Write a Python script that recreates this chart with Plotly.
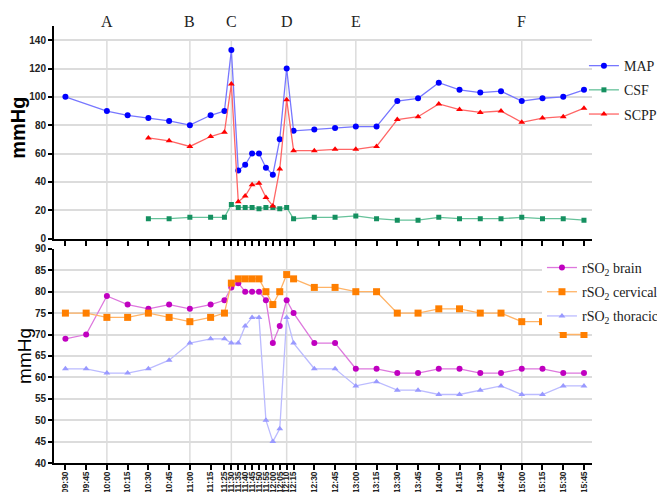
import plotly.graph_objects as go
from plotly.subplots import make_subplots

times = ["09:30", "09:45", "10:00", "10:15", "10:30", "10:45", "11:00", "11:15", "11:25",
         "11:30", "11:35", "11:40", "11:45", "11:50", "11:55", "12:00", "12:05", "12:10", "12:15",
         "12:30", "12:45", "13:00", "13:15", "13:30", "13:45", "14:00", "14:15", "14:30", "14:45",
         "15:00", "15:15", "15:30", "15:45"]

MAP = [100, None, 90, 87, 85, 83, 80, 87, 90,
       133, 48, 52, 60, 60, 50, 45, 70, 120, 76,
       77, 78, 79, 79, 97, 99, 110, 105, 103, 104, 97, 99, 100, 105]
CSF = [None, None, None, None, 14, 14, 15, 15, 15,
       24, 22, 22, 22, 21, 22, 22, 21, 22, 14,
       15, 15, 16, 14, 13, 13, 15, 14, 14, 14, 15, 14, 14, 13]
SCPP = [None, None, None, None, 71, 69, 65, 72, 75,
        109, 26, 30, 38, 39, 29, 23, 49, 98, 62,
        62, 63, 63, 65, 84, 86, 95, 91, 89, 90, 82, 85, 86, 92]

rso2_brain = [69, 70, 79, 77, 76, 77, 76, 77, 78,
              81, 82, 80, 80, 80, 78, 68, 72, 78, 75,
              68, 68, 62, 62, 61, 61, 62, 62, 61, 61, 62, 62, 61, 61]
rso2_cervical = [75, 75, 74, 74, 75, 74, 73, 74, 75,
                 82, 83, 83, 83, 83, 80, 77, 80, 84, 83,
                 81, 81, 80, 80, 75, 75, 76, 76, 75, 75, 73, 73, 70, 70]
rso2_thoracic = [62, 62, 61, 61, 62, 64, 68, 69, 69,
                 68, 68, 72, 74, 74, 50, 45, 48, 74, 68,
                 62, 62, 58, 59, 57, 57, 56, 56, 57, 58, 56, 56, 58, 58]

phase_labels = ["A", "B", "C", "D", "E", "F"]
phase_times = ["10:00", "11:00", "11:30", "12:10", "13:00", "15:00"]

DAY = "2000-01-01 "
x = [DAY + t for t in times]

top_dom = [0.5136, 1.0]
bot_dom = [0.0, 0.490]

fig = make_subplots(rows=2, cols=1, shared_xaxes=False, vertical_spacing=0.02)

serif = "Liberation Serif, Times New Roman, serif"
sans = "Liberation Sans, Arial, sans-serif"

def add(row, y, name, color, lcolor, symbol, size, legend):
    fig.add_trace(go.Scatter(
        x=x, y=y, name=name, mode="lines+markers", connectgaps=True,
        line=dict(color=lcolor, width=1.3),
        marker=dict(color=color, symbol=symbol, size=size),
        legend=legend, legendgroup=name,
    ), row=row, col=1)

add(1, MAP, "MAP", "#0000ff", "#7777ff", "circle", 6, "legend")
add(1, CSF, "CSF", "#159060", "#66c29a", "square", 5, "legend")
add(1, SCPP, "SCPP", "#ff0000", "#ff6666", "triangle-up", 6, "legend")

add(2, rso2_brain, "rSO<sub>2</sub> brain", "#c000c0", "#dd77dd", "circle", 6, "legend2")
add(2, rso2_cervical, "rSO<sub>2</sub> cervical", "#ff7f00", "#ffb366", "square", 7, "legend2")
add(2, rso2_thoracic, "rSO<sub>2</sub> thoracic", "#9999ff", "#bbbbff", "triangle-up", 6, "legend2")

xr = [DAY + "09:21:45", DAY + "15:50:48"]
tickfont_y = dict(family=sans, size=10, color="#222", weight="bold")
tickfont_x = dict(family=sans, size=8.5, color="#222", weight="bold")

common_x = dict(type="date", range=xr, tickmode="array", tickvals=x, ticktext=times,
                showgrid=False, showline=True, linecolor="black", linewidth=2,
                ticks="outside", ticklen=5, tickwidth=1.5, tickcolor="black",
                zeroline=False, automargin=False)
fig.update_xaxes(**common_x, showticklabels=False, row=1, col=1)
fig.update_xaxes(**common_x, showticklabels=True, tickangle=-90, tickfont=tickfont_x,
                 ticklabelstandoff=-2, row=2, col=1)
fig.update_layout(xaxis=dict(domain=[0, 1]), xaxis2=dict(domain=[0, 1]))

common_y = dict(showgrid=True, gridcolor="#dcdcdc", gridwidth=1.5, showline=True,
                linecolor="black", linewidth=2, ticks="outside", ticklen=4, tickwidth=1.5,
                tickcolor="black", zeroline=False, tickfont=tickfont_y, automargin=False)
fig.update_yaxes(**common_y, range=[0, 150], tickvals=[0, 20, 40, 60, 80, 100, 120, 140],
                 domain=top_dom, row=1, col=1)
fig.update_yaxes(**common_y, range=[40, 90], tickvals=[40, 45, 50, 55, 60, 65, 70, 75, 80, 85, 90],
                 domain=bot_dom, row=2, col=1)

# y-axis titles
fig.add_annotation(text="<b>mmHg</b>", xref="paper", yref="paper", x=-0.0669, y=0.767,
                   textangle=-90, showarrow=False, xanchor="center", yanchor="middle",
                   font=dict(family=sans, size=20, color="black"))
fig.add_annotation(text="mmHg", xref="paper", yref="paper", x=-0.0539, y=0.245,
                   textangle=-90, showarrow=False, xanchor="center", yanchor="middle",
                   font=dict(family=sans, size=19, color="black"))

# vertical phase gridlines spanning both panels
y140 = top_dom[0] + (140 / 150) * (top_dom[1] - top_dom[0])
for t, lab in zip(phase_times, phase_labels):
    fig.add_shape(type="line", xref="x", yref="paper", x0=DAY + t, x1=DAY + t,
                  y0=0, y1=y140, line=dict(color="#dcdcdc", width=1.5), layer="below")
    fig.add_annotation(x=DAY + t, xref="x", y=1.011, yref="paper", text=lab, showarrow=False,
                       font=dict(family=serif, size=16, color="#222"), yanchor="middle")

fig.update_layout(
    width=657, height=492,
    margin=dict(l=54, r=65, t=26, b=29, autoexpand=False),
    paper_bgcolor="white", plot_bgcolor="white",
    legend=dict(x=0.985, y=0.945, xanchor="left", yanchor="top", bgcolor="rgba(255,255,255,0)",
                font=dict(family=serif, size=14, color="#222"), tracegroupgap=3, itemwidth=30),
    legend2=dict(x=0.907, y=0.483, xanchor="left", yanchor="top", bgcolor="white",
                 font=dict(family=serif, size=14, color="#222"), tracegroupgap=3, itemwidth=30),
    showlegend=True,
)

fig.write_html("out.html", config={"displayModeBar": False},
               post_script="document.body.style.margin='0';document.body.style.overflow='hidden';")
